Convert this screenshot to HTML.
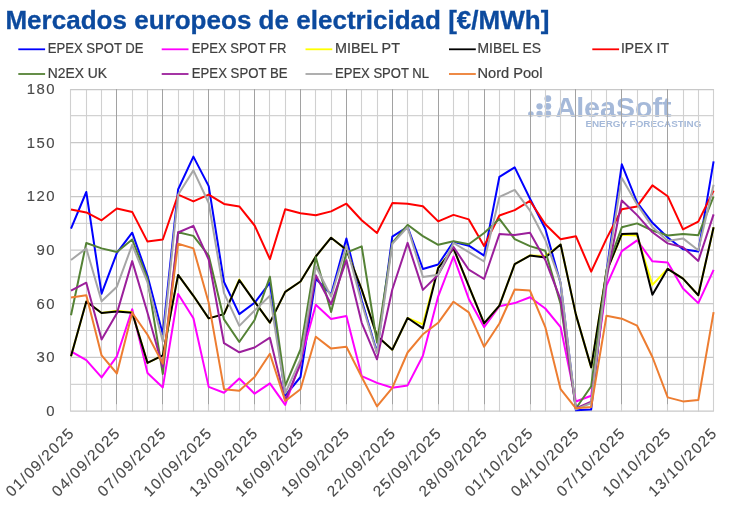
<!DOCTYPE html>
<html><head><meta charset="utf-8"><title>Mercados europeos de electricidad</title>
<style>html,body{margin:0;padding:0;background:#fff}svg{display:block}text{font-family:"Liberation Sans",Arial,sans-serif}</style></head><body>
<svg width="730" height="509" viewBox="0 0 730 509">
<rect width="730" height="509" fill="#fff"/>
<text x="5.4" y="28.7" font-size="26" font-weight="bold" fill="#0c4a9e" stroke="#0c4a9e" stroke-width="0.3" textLength="544" lengthAdjust="spacingAndGlyphs">Mercados europeos de electricidad [€/MWh]</text>
<g fill="#a5b9d9"><circle cx="530.9" cy="114" r="2.8"/><circle cx="539.5" cy="114" r="3.15"/><circle cx="539.5" cy="106.3" r="3.15"/><circle cx="547.8" cy="114" r="3.4"/><circle cx="547.8" cy="106.3" r="3.4"/><circle cx="547.8" cy="98.6" r="3.4"/><text x="555.5" y="117.4" font-size="27" font-weight="bold" textLength="116" lengthAdjust="spacingAndGlyphs">AleaSoft</text><text x="585.4" y="127.3" font-size="8.8" font-weight="bold" textLength="116" lengthAdjust="spacingAndGlyphs">ENERGY FORECASTING</text></g>
<g><line x1="70.5" x2="713.6" y1="384.4" y2="384.4" stroke="#d2d2d2" stroke-width="1.1"/><line x1="70.5" x2="713.6" y1="330.5" y2="330.5" stroke="#d2d2d2" stroke-width="1.1"/><line x1="70.5" x2="713.6" y1="276.9" y2="276.9" stroke="#d2d2d2" stroke-width="1.1"/><line x1="70.5" x2="713.6" y1="223.4" y2="223.4" stroke="#d2d2d2" stroke-width="1.1"/><line x1="70.5" x2="713.6" y1="169.8" y2="169.8" stroke="#d2d2d2" stroke-width="1.1"/><line x1="70.5" x2="713.6" y1="115.6" y2="115.6" stroke="#d2d2d2" stroke-width="1.1"/><line x1="70.5" x2="70.5" y1="89.1" y2="411.6" stroke="#d0d0d0" stroke-width="1.1"/><line x1="86.5" x2="86.5" y1="89.1" y2="411.6" stroke="#d0d0d0" stroke-width="1.1"/><line x1="101.5" x2="101.5" y1="89.1" y2="411.6" stroke="#d0d0d0" stroke-width="1.1"/><line x1="132.5" x2="132.5" y1="89.1" y2="411.6" stroke="#d0d0d0" stroke-width="1.1"/><line x1="147.5" x2="147.5" y1="89.1" y2="411.6" stroke="#d0d0d0" stroke-width="1.1"/><line x1="178.5" x2="178.5" y1="89.1" y2="411.6" stroke="#d0d0d0" stroke-width="1.1"/><line x1="193.5" x2="193.5" y1="89.1" y2="411.6" stroke="#d0d0d0" stroke-width="1.1"/><line x1="224.5" x2="224.5" y1="89.1" y2="411.6" stroke="#d0d0d0" stroke-width="1.1"/><line x1="239.5" x2="239.5" y1="89.1" y2="411.6" stroke="#d0d0d0" stroke-width="1.1"/><line x1="269.5" x2="269.5" y1="89.1" y2="411.6" stroke="#d0d0d0" stroke-width="1.1"/><line x1="285.5" x2="285.5" y1="89.1" y2="411.6" stroke="#d0d0d0" stroke-width="1.1"/><line x1="315.5" x2="315.5" y1="89.1" y2="411.6" stroke="#d0d0d0" stroke-width="1.1"/><line x1="331.5" x2="331.5" y1="89.1" y2="411.6" stroke="#d0d0d0" stroke-width="1.1"/><line x1="361.5" x2="361.5" y1="89.1" y2="411.6" stroke="#d0d0d0" stroke-width="1.1"/><line x1="377.5" x2="377.5" y1="89.1" y2="411.6" stroke="#d0d0d0" stroke-width="1.1"/><line x1="407.5" x2="407.5" y1="89.1" y2="411.6" stroke="#d0d0d0" stroke-width="1.1"/><line x1="422.5" x2="422.5" y1="89.1" y2="411.6" stroke="#d0d0d0" stroke-width="1.1"/><line x1="453.5" x2="453.5" y1="89.1" y2="411.6" stroke="#d0d0d0" stroke-width="1.1"/><line x1="468.5" x2="468.5" y1="89.1" y2="411.6" stroke="#d0d0d0" stroke-width="1.1"/><line x1="499.5" x2="499.5" y1="89.1" y2="411.6" stroke="#d0d0d0" stroke-width="1.1"/><line x1="514.5" x2="514.5" y1="89.1" y2="411.6" stroke="#d0d0d0" stroke-width="1.1"/><line x1="545.5" x2="545.5" y1="89.1" y2="411.6" stroke="#d0d0d0" stroke-width="1.1"/><line x1="560.5" x2="560.5" y1="89.1" y2="411.6" stroke="#d0d0d0" stroke-width="1.1"/><line x1="591.5" x2="591.5" y1="89.1" y2="411.6" stroke="#d0d0d0" stroke-width="1.1"/><line x1="606.5" x2="606.5" y1="89.1" y2="411.6" stroke="#d0d0d0" stroke-width="1.1"/><line x1="637.5" x2="637.5" y1="89.1" y2="411.6" stroke="#d0d0d0" stroke-width="1.1"/><line x1="652.5" x2="652.5" y1="89.1" y2="411.6" stroke="#d0d0d0" stroke-width="1.1"/><line x1="683.5" x2="683.5" y1="89.1" y2="411.6" stroke="#d0d0d0" stroke-width="1.1"/><line x1="698.5" x2="698.5" y1="89.1" y2="411.6" stroke="#d0d0d0" stroke-width="1.1"/><line x1="713.5" x2="713.5" y1="89.1" y2="411.6" stroke="#d0d0d0" stroke-width="1.1"/><line x1="70.5" x2="713.6" y1="411.1" y2="411.1" stroke="#c8c8c8" stroke-width="1.3"/><line x1="70.5" x2="713.6" y1="357.4" y2="357.4" stroke="#c8c8c8" stroke-width="1.3"/><line x1="70.5" x2="713.6" y1="303.7" y2="303.7" stroke="#c8c8c8" stroke-width="1.3"/><line x1="70.5" x2="713.6" y1="250.1" y2="250.1" stroke="#c8c8c8" stroke-width="1.3"/><line x1="70.5" x2="713.6" y1="196.6" y2="196.6" stroke="#c8c8c8" stroke-width="1.3"/><line x1="70.5" x2="713.6" y1="142.6" y2="142.6" stroke="#c8c8c8" stroke-width="1.3"/><line x1="70.5" x2="713.6" y1="89.6" y2="89.6" stroke="#c8c8c8" stroke-width="1.3"/><line x1="116.5" x2="116.5" y1="404.5" y2="411.6" stroke="#d0d0d0" stroke-width="1.1"/><line x1="116.5" x2="116.5" y1="89.1" y2="404.5" stroke="#a2a2a2" stroke-width="1"/><line x1="162.5" x2="162.5" y1="404.5" y2="411.6" stroke="#d0d0d0" stroke-width="1.1"/><line x1="162.5" x2="162.5" y1="89.1" y2="404.5" stroke="#a2a2a2" stroke-width="1"/><line x1="208.5" x2="208.5" y1="404.5" y2="411.6" stroke="#d0d0d0" stroke-width="1.1"/><line x1="208.5" x2="208.5" y1="89.1" y2="404.5" stroke="#a2a2a2" stroke-width="1"/><line x1="254.5" x2="254.5" y1="404.5" y2="411.6" stroke="#d0d0d0" stroke-width="1.1"/><line x1="254.5" x2="254.5" y1="89.1" y2="404.5" stroke="#a2a2a2" stroke-width="1"/><line x1="300.5" x2="300.5" y1="404.5" y2="411.6" stroke="#d0d0d0" stroke-width="1.1"/><line x1="300.5" x2="300.5" y1="89.1" y2="404.5" stroke="#a2a2a2" stroke-width="1"/><line x1="346.5" x2="346.5" y1="404.5" y2="411.6" stroke="#d0d0d0" stroke-width="1.1"/><line x1="346.5" x2="346.5" y1="89.1" y2="404.5" stroke="#a2a2a2" stroke-width="1"/><line x1="392.5" x2="392.5" y1="404.5" y2="411.6" stroke="#d0d0d0" stroke-width="1.1"/><line x1="392.5" x2="392.5" y1="89.1" y2="404.5" stroke="#a2a2a2" stroke-width="1"/><line x1="438.5" x2="438.5" y1="404.5" y2="411.6" stroke="#d0d0d0" stroke-width="1.1"/><line x1="438.5" x2="438.5" y1="89.1" y2="404.5" stroke="#a2a2a2" stroke-width="1"/><line x1="484.5" x2="484.5" y1="404.5" y2="411.6" stroke="#d0d0d0" stroke-width="1.1"/><line x1="484.5" x2="484.5" y1="89.1" y2="404.5" stroke="#a2a2a2" stroke-width="1"/><line x1="530.5" x2="530.5" y1="404.5" y2="411.6" stroke="#d0d0d0" stroke-width="1.1"/><line x1="530.5" x2="530.5" y1="89.1" y2="404.5" stroke="#a2a2a2" stroke-width="1"/><line x1="575.5" x2="575.5" y1="404.5" y2="411.6" stroke="#d0d0d0" stroke-width="1.1"/><line x1="575.5" x2="575.5" y1="89.1" y2="404.5" stroke="#a2a2a2" stroke-width="1"/><line x1="621.5" x2="621.5" y1="404.5" y2="411.6" stroke="#d0d0d0" stroke-width="1.1"/><line x1="621.5" x2="621.5" y1="89.1" y2="404.5" stroke="#a2a2a2" stroke-width="1"/><line x1="667.5" x2="667.5" y1="404.5" y2="411.6" stroke="#d0d0d0" stroke-width="1.1"/><line x1="667.5" x2="667.5" y1="89.1" y2="404.5" stroke="#a2a2a2" stroke-width="1"/></g>
<polyline fill="none" stroke="#0000ff" stroke-width="2" stroke-linejoin="round" stroke-linecap="butt" points="71.0,228.7 86.3,192.0 101.6,293.7 116.9,252.9 132.2,232.7 147.5,275.8 162.8,334.3 178.1,189.5 193.4,156.6 208.7,186.1 224.0,282.0 239.3,314.1 254.6,302.8 269.9,282.7 285.2,395.6 300.5,377.0 315.8,278.8 331.1,294.4 346.4,238.4 361.7,300.3 377.0,352.2 392.3,236.6 407.6,226.8 422.9,269.0 438.2,264.5 453.5,241.8 468.8,245.7 484.1,255.6 499.4,176.8 514.7,167.4 530.0,198.8 545.3,228.7 560.6,283.3 575.9,410.3 591.2,409.4 606.5,271.7 621.8,164.3 637.1,202.4 652.4,222.8 667.7,237.5 683.0,249.3 698.3,251.6 713.6,161.3"/>
<polyline fill="none" stroke="#ff00ff" stroke-width="2" stroke-linejoin="round" stroke-linecap="butt" points="71.0,351.4 86.3,360.2 101.6,377.4 116.9,356.3 132.2,309.2 147.5,373.1 162.8,387.4 178.1,294.0 193.4,318.2 208.7,386.9 224.0,392.8 239.3,378.5 254.6,393.7 269.9,383.3 285.2,404.9 300.5,361.1 315.8,304.8 331.1,318.9 346.4,316.0 361.7,376.1 377.0,382.9 392.3,387.8 407.6,385.4 422.9,355.7 438.2,296.3 453.5,256.5 468.8,298.9 484.1,327.1 499.4,306.2 514.7,303.1 530.0,297.2 545.3,308.5 560.6,327.1 575.9,401.5 591.2,395.8 606.5,285.6 621.8,251.1 637.1,240.4 652.4,261.3 667.7,262.5 683.0,288.5 698.3,303.1 713.6,269.9"/>
<polyline fill="none" stroke="#ffff00" stroke-width="2" stroke-linejoin="round" stroke-linecap="butt" points="71.0,356.3 86.3,301.5 101.6,313.0 116.9,310.7 132.2,312.3 147.5,362.9 162.8,355.4 178.1,274.9 193.4,295.8 208.7,318.4 224.0,314.1 239.3,279.5 254.6,301.7 269.9,322.6 285.2,291.9 300.5,281.5 315.8,256.5 331.1,237.7 346.4,249.7 361.7,289.5 377.0,336.1 392.3,349.7 407.6,318.0 422.9,324.3 438.2,267.5 453.5,248.4 468.8,286.1 484.1,323.4 499.4,305.6 514.7,264.1 530.0,255.4 545.3,256.1 560.6,244.5 575.9,314.6 591.2,367.4 606.5,271.7 621.8,234.8 637.1,235.5 652.4,284.9 667.7,268.8 683.0,278.6 698.3,295.3 713.6,227.3"/>
<polyline fill="none" stroke="#000000" stroke-width="2" stroke-linejoin="round" stroke-linecap="butt" points="71.0,356.3 86.3,301.5 101.6,313.0 116.9,311.4 132.2,312.8 147.5,362.9 162.8,355.4 178.1,274.9 193.4,295.8 208.7,318.4 224.0,314.1 239.3,280.1 254.6,301.7 269.9,322.6 285.2,291.9 300.5,281.5 315.8,256.5 331.1,237.7 346.4,249.7 361.7,289.5 377.0,336.1 392.3,349.7 407.6,318.0 422.9,328.4 438.2,268.1 453.5,248.4 468.8,286.1 484.1,323.4 499.4,305.6 514.7,264.1 530.0,255.6 545.3,257.5 560.6,244.5 575.9,314.6 591.2,367.4 606.5,271.7 621.8,234.1 637.1,233.6 652.4,294.7 667.7,268.8 683.0,278.6 698.3,295.3 713.6,227.3"/>
<polyline fill="none" stroke="#ff0000" stroke-width="2" stroke-linejoin="round" stroke-linecap="butt" points="71.0,209.4 86.3,212.4 101.6,220.3 116.9,208.5 132.2,211.9 147.5,241.6 162.8,239.5 178.1,194.7 193.4,201.4 208.7,194.6 224.0,203.9 239.3,206.4 254.6,225.5 269.9,259.1 285.2,209.2 300.5,213.2 315.8,215.3 331.1,211.4 346.4,203.7 361.7,220.3 377.0,233.0 392.3,203.1 407.6,203.7 422.9,206.2 438.2,221.4 453.5,214.9 468.8,219.4 484.1,245.9 499.4,215.5 514.7,210.1 530.0,200.8 545.3,224.2 560.6,239.3 575.9,236.2 591.2,271.7 606.5,238.6 621.8,209.2 637.1,206.4 652.4,185.4 667.7,196.2 683.0,229.4 698.3,221.6 713.6,190.6"/>
<polyline fill="none" stroke="#548235" stroke-width="2" stroke-linejoin="round" stroke-linecap="butt" points="71.0,315.3 86.3,243.0 101.6,248.4 116.9,252.0 132.2,239.5 147.5,278.8 162.8,374.0 178.1,232.3 193.4,235.9 208.7,255.6 224.0,319.4 239.3,342.0 254.6,320.0 269.9,276.8 285.2,385.8 300.5,349.5 315.8,257.3 331.1,312.1 346.4,252.7 361.7,246.4 377.0,342.5 392.3,242.9 407.6,224.8 422.9,236.1 438.2,244.8 453.5,241.2 468.8,244.3 484.1,233.0 499.4,218.9 514.7,239.1 530.0,246.1 545.3,250.7 560.6,303.9 575.9,408.5 591.2,386.2 606.5,269.9 621.8,227.3 637.1,223.4 652.4,230.5 667.7,235.5 683.0,234.1 698.3,235.2 713.6,196.5"/>
<polyline fill="none" stroke="#9b1f9b" stroke-width="2" stroke-linejoin="round" stroke-linecap="butt" points="71.0,290.6 86.3,282.7 101.6,339.6 116.9,313.3 132.2,261.1 147.5,312.8 162.8,367.2 178.1,232.5 193.4,225.9 208.7,259.5 224.0,343.2 239.3,352.3 254.6,347.5 269.9,337.7 285.2,400.5 300.5,364.1 315.8,275.2 331.1,304.2 346.4,260.2 361.7,322.8 377.0,359.3 392.3,289.5 407.6,242.9 422.9,289.9 438.2,274.7 453.5,247.0 468.8,269.7 484.1,279.0 499.4,234.1 514.7,235.0 530.0,232.8 545.3,259.9 560.6,299.7 575.9,408.5 591.2,401.7 606.5,278.8 621.8,200.5 637.1,215.1 652.4,232.3 667.7,243.4 683.0,247.3 698.3,260.9 713.6,214.4"/>
<polyline fill="none" stroke="#a6a6a6" stroke-width="2" stroke-linejoin="round" stroke-linecap="butt" points="71.0,260.0 86.3,248.4 101.6,301.2 116.9,286.7 132.2,244.8 147.5,282.4 162.8,341.4 178.1,194.7 193.4,170.4 208.7,203.0 224.0,293.1 239.3,325.9 254.6,310.5 269.9,295.8 285.2,393.3 300.5,359.3 315.8,266.3 331.1,296.5 346.4,245.7 361.7,303.0 377.0,353.2 392.3,243.9 407.6,227.1 422.9,277.0 438.2,274.7 453.5,243.0 468.8,252.2 484.1,261.5 499.4,196.9 514.7,189.9 530.0,210.7 545.3,240.0 560.6,282.4 575.9,409.4 591.2,403.0 606.5,273.4 621.8,177.9 637.1,204.4 652.4,226.9 667.7,241.1 683.0,238.4 698.3,250.2 713.6,184.7"/>
<polyline fill="none" stroke="#ed7d31" stroke-width="2" stroke-linejoin="round" stroke-linecap="butt" points="71.0,297.6 86.3,295.3 101.6,355.4 116.9,373.5 132.2,312.8 147.5,334.8 162.8,363.6 178.1,243.7 193.4,248.4 208.7,302.8 224.0,389.2 239.3,390.8 254.6,377.0 269.9,353.8 285.2,401.0 300.5,389.2 315.8,336.8 331.1,348.6 346.4,346.8 361.7,377.0 377.0,406.4 392.3,387.8 407.6,352.5 422.9,334.3 438.2,322.8 453.5,301.7 468.8,312.4 484.1,346.8 499.4,323.5 514.7,289.5 530.0,290.6 545.3,327.1 560.6,389.2 575.9,408.3 591.2,407.1 606.5,315.7 621.8,318.7 637.1,325.7 652.4,357.0 667.7,397.4 683.0,401.4 698.3,400.1 713.6,312.1"/>
<text x="55.9" y="416.0" font-size="14.9" letter-spacing="1.4" fill="#484848" stroke="#484848" stroke-width="0.12" text-anchor="end">0</text>
<text x="55.9" y="362.3" font-size="14.9" letter-spacing="1.4" fill="#484848" stroke="#484848" stroke-width="0.12" text-anchor="end">30</text>
<text x="55.9" y="308.7" font-size="14.9" letter-spacing="1.4" fill="#484848" stroke="#484848" stroke-width="0.12" text-anchor="end">60</text>
<text x="55.9" y="255.0" font-size="14.9" letter-spacing="1.4" fill="#484848" stroke="#484848" stroke-width="0.12" text-anchor="end">90</text>
<text x="55.9" y="201.3" font-size="14.9" letter-spacing="1.4" fill="#484848" stroke="#484848" stroke-width="0.12" text-anchor="end">120</text>
<text x="55.9" y="147.7" font-size="14.9" letter-spacing="1.4" fill="#484848" stroke="#484848" stroke-width="0.12" text-anchor="end">150</text>
<text x="55.9" y="94.0" font-size="14.9" letter-spacing="1.4" fill="#484848" stroke="#484848" stroke-width="0.12" text-anchor="end">180</text>
<text transform="translate(74.6,434.8) rotate(-45)" font-size="15.3" fill="#484848" stroke="#484848" stroke-width="0.12" text-anchor="end" textLength="88.5" lengthAdjust="spacing">01/09/2025</text>
<text transform="translate(120.5,434.8) rotate(-45)" font-size="15.3" fill="#484848" stroke="#484848" stroke-width="0.12" text-anchor="end" textLength="88.5" lengthAdjust="spacing">04/09/2025</text>
<text transform="translate(166.4,434.8) rotate(-45)" font-size="15.3" fill="#484848" stroke="#484848" stroke-width="0.12" text-anchor="end" textLength="88.5" lengthAdjust="spacing">07/09/2025</text>
<text transform="translate(212.3,434.8) rotate(-45)" font-size="15.3" fill="#484848" stroke="#484848" stroke-width="0.12" text-anchor="end" textLength="88.5" lengthAdjust="spacing">10/09/2025</text>
<text transform="translate(258.2,434.8) rotate(-45)" font-size="15.3" fill="#484848" stroke="#484848" stroke-width="0.12" text-anchor="end" textLength="88.5" lengthAdjust="spacing">13/09/2025</text>
<text transform="translate(304.1,434.8) rotate(-45)" font-size="15.3" fill="#484848" stroke="#484848" stroke-width="0.12" text-anchor="end" textLength="88.5" lengthAdjust="spacing">16/09/2025</text>
<text transform="translate(350.0,434.8) rotate(-45)" font-size="15.3" fill="#484848" stroke="#484848" stroke-width="0.12" text-anchor="end" textLength="88.5" lengthAdjust="spacing">19/09/2025</text>
<text transform="translate(395.9,434.8) rotate(-45)" font-size="15.3" fill="#484848" stroke="#484848" stroke-width="0.12" text-anchor="end" textLength="88.5" lengthAdjust="spacing">22/09/2025</text>
<text transform="translate(441.8,434.8) rotate(-45)" font-size="15.3" fill="#484848" stroke="#484848" stroke-width="0.12" text-anchor="end" textLength="88.5" lengthAdjust="spacing">25/09/2025</text>
<text transform="translate(487.7,434.8) rotate(-45)" font-size="15.3" fill="#484848" stroke="#484848" stroke-width="0.12" text-anchor="end" textLength="88.5" lengthAdjust="spacing">28/09/2025</text>
<text transform="translate(533.6,434.8) rotate(-45)" font-size="15.3" fill="#484848" stroke="#484848" stroke-width="0.12" text-anchor="end" textLength="88.5" lengthAdjust="spacing">01/10/2025</text>
<text transform="translate(579.5,434.8) rotate(-45)" font-size="15.3" fill="#484848" stroke="#484848" stroke-width="0.12" text-anchor="end" textLength="88.5" lengthAdjust="spacing">04/10/2025</text>
<text transform="translate(625.4,434.8) rotate(-45)" font-size="15.3" fill="#484848" stroke="#484848" stroke-width="0.12" text-anchor="end" textLength="88.5" lengthAdjust="spacing">07/10/2025</text>
<text transform="translate(671.3,434.8) rotate(-45)" font-size="15.3" fill="#484848" stroke="#484848" stroke-width="0.12" text-anchor="end" textLength="88.5" lengthAdjust="spacing">10/10/2025</text>
<text transform="translate(717.2,434.8) rotate(-45)" font-size="15.3" fill="#484848" stroke="#484848" stroke-width="0.12" text-anchor="end" textLength="88.5" lengthAdjust="spacing">13/10/2025</text>
<line x1="18.3" x2="45.1" y1="49.3" y2="49.3" stroke="#0000ff" stroke-width="1.8"/>
<text x="47.7" y="52.6" font-size="13.8" fill="#404040" stroke="#404040" stroke-width="0.2" textLength="95.8" lengthAdjust="spacingAndGlyphs">EPEX SPOT DE</text>
<line x1="161.7" x2="188.5" y1="49.3" y2="49.3" stroke="#ff00ff" stroke-width="1.8"/>
<text x="191.8" y="52.6" font-size="13.8" fill="#404040" stroke="#404040" stroke-width="0.2" textLength="94.7" lengthAdjust="spacingAndGlyphs">EPEX SPOT FR</text>
<line x1="305.5" x2="332.3" y1="49.3" y2="49.3" stroke="#ffff00" stroke-width="1.8"/>
<text x="335" y="52.6" font-size="13.8" fill="#404040" stroke="#404040" stroke-width="0.2" textLength="65.0" lengthAdjust="spacingAndGlyphs">MIBEL PT</text>
<line x1="449" x2="475.8" y1="49.3" y2="49.3" stroke="#000000" stroke-width="1.8"/>
<text x="477.5" y="52.6" font-size="13.8" fill="#404040" stroke="#404040" stroke-width="0.2" textLength="63.5" lengthAdjust="spacingAndGlyphs">MIBEL ES</text>
<line x1="592.3" x2="619.0999999999999" y1="49.3" y2="49.3" stroke="#ff0000" stroke-width="1.8"/>
<text x="621" y="52.6" font-size="13.8" fill="#404040" stroke="#404040" stroke-width="0.2" textLength="48.0" lengthAdjust="spacingAndGlyphs">IPEX IT</text>
<line x1="18.3" x2="45.1" y1="74" y2="74" stroke="#548235" stroke-width="1.8"/>
<text x="47.7" y="77.5" font-size="13.8" fill="#404040" stroke="#404040" stroke-width="0.2" textLength="59.3" lengthAdjust="spacingAndGlyphs">N2EX UK</text>
<line x1="161.7" x2="188.5" y1="74" y2="74" stroke="#9b1f9b" stroke-width="1.8"/>
<text x="191.8" y="77.5" font-size="13.8" fill="#404040" stroke="#404040" stroke-width="0.2" textLength="95.7" lengthAdjust="spacingAndGlyphs">EPEX SPOT BE</text>
<line x1="305.5" x2="332.3" y1="74" y2="74" stroke="#a6a6a6" stroke-width="1.8"/>
<text x="335" y="77.5" font-size="13.8" fill="#404040" stroke="#404040" stroke-width="0.2" textLength="94.0" lengthAdjust="spacingAndGlyphs">EPEX SPOT NL</text>
<line x1="449" x2="475.8" y1="74" y2="74" stroke="#ed7d31" stroke-width="1.8"/>
<text x="477.5" y="77.5" font-size="13.8" fill="#404040" stroke="#404040" stroke-width="0.2" textLength="65.0" lengthAdjust="spacingAndGlyphs">Nord Pool</text>
</svg></body></html>
